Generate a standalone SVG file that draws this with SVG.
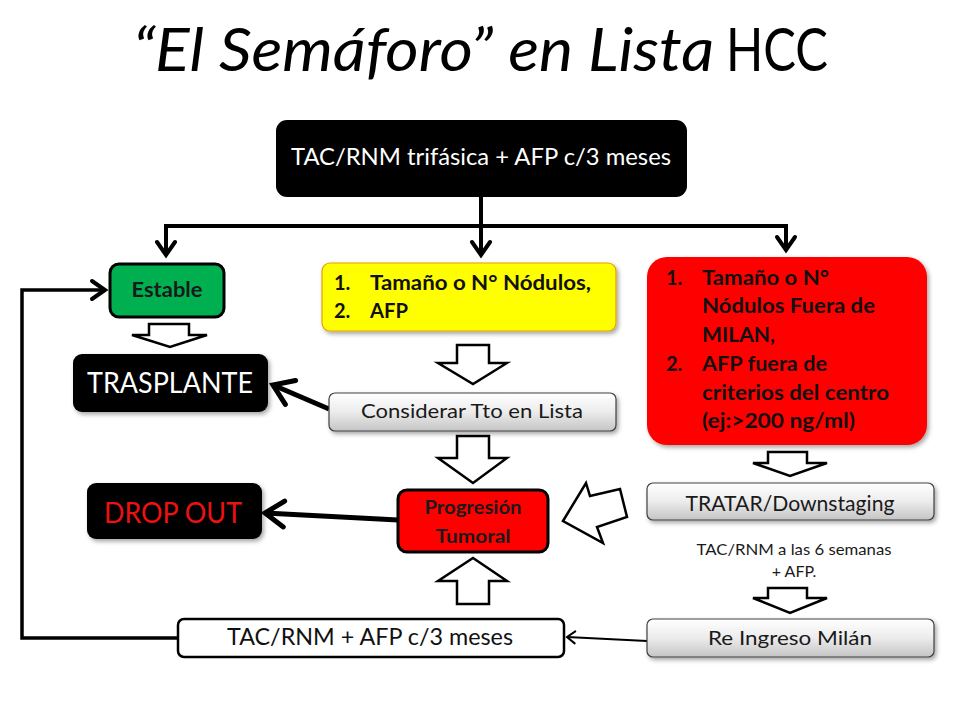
<svg xmlns="http://www.w3.org/2000/svg" width="960" height="720" viewBox="0 0 960 720">
<defs>
<style>
text{font-family:Lato,"Open Sans","Liberation Sans",sans-serif;}
.b{font-weight:bold;}
.con{fill:none;stroke:#000;}
.blk{fill:#fff;stroke:#000;stroke-width:2.5;stroke-linejoin:miter;}
.gray{fill:url(#gg);stroke:#404040;stroke-width:1.2;filter:url(#sh);}
</style>
<linearGradient id="gg" x1="0" y1="0" x2="0" y2="1">
<stop offset="0" stop-color="#ffffff"/>
<stop offset="0.5" stop-color="#ececec"/>
<stop offset="1" stop-color="#c4c4c4"/>
</linearGradient>
<filter id="sh" x="-10%" y="-20%" width="130%" height="150%">
<feDropShadow dx="2" dy="2.5" stdDeviation="2" flood-color="#000" flood-opacity="0.35"/>
</filter>
<marker id="am" markerUnits="userSpaceOnUse" viewBox="-18 -12 22 24" markerWidth="22" markerHeight="24" refX="0" refY="0" orient="auto">
<path d="M-13,-9 L0,0 L-13,9" fill="none" stroke="#000" stroke-width="4" stroke-linecap="round" stroke-linejoin="miter"/>
</marker>
<marker id="ab" markerUnits="userSpaceOnUse" viewBox="-24 -17 28 34" markerWidth="28" markerHeight="34" refX="0" refY="0" orient="auto">
<path d="M-19,-13 L0,0 L-19,13" fill="none" stroke="#000" stroke-width="5" stroke-linecap="round" stroke-linejoin="miter"/>
</marker>
<marker id="as" markerUnits="userSpaceOnUse" viewBox="-12 -8 14 16" markerWidth="14" markerHeight="16" refX="0" refY="0" orient="auto">
<path d="M-8,-6 L0,0 L-8,6" fill="none" stroke="#000" stroke-width="2" stroke-linecap="round"/>
</marker>
</defs>
<rect width="960" height="720" fill="#fff"/>

<g id="title">
<text x="133" y="71" font-size="60" font-style="italic" textLength="581" lengthAdjust="spacingAndGlyphs">“El Semáforo” en Lista</text>
<text x="726" y="71" font-size="60" textLength="102" lengthAdjust="spacingAndGlyphs">HCC</text>
</g>

<g id="connectors">
<path class="con" stroke-width="4" d="M481,197 V255" marker-end="url(#am)"/>
<path class="con" stroke-width="4" d="M166,226 H786"/>
<path class="con" stroke-width="4" d="M166,224 V255" marker-end="url(#am)"/>
<path class="con" stroke-width="4" d="M786,224 V250" marker-end="url(#am)"/>
<path class="con" stroke-width="3.5" d="M178,638 H22 V290 H105" marker-end="url(#am)"/>
<path class="con" stroke-width="5" d="M329,409 L273,385" marker-end="url(#ab)"/>
<path class="con" stroke-width="5" d="M398,520 L265,513" marker-end="url(#ab)"/>
<path class="con" stroke-width="2" d="M647,641 L567,637" marker-end="url(#as)"/>
<polygon class="blk" points="149,324 189,324 189,335 207,335 170,347 132,335 149,335"/>
<polygon class="blk" points="457,345 489,345 489,363 507,363 473,384 438,363 457,363"/>
<polygon class="blk" points="457,436 489,436 489,458 507,458 473,483 438,458 457,458"/>
<polygon class="blk" points="473,558 507,581 489,581 489,604 457,604 457,581 438,581"/>
<polygon class="blk" points="768,452 807,452 807,463 827,463 790,476 753,463 768,463"/>
<polygon class="blk" points="768,588 807,588 807,598 827,598 790,613 753,598 768,598"/>
<polygon class="blk" points="563,521 586,483 590,496 620,489 627,517 597,527 603,543"/>
</g>

<g id="n-top">
<rect x="276" y="120" width="411" height="77" rx="11" fill="#000"/>
<text x="481" y="165" font-size="23" fill="#fff" text-anchor="middle" textLength="380" lengthAdjust="spacingAndGlyphs">TAC/RNM trifásica + AFP c/3 meses</text>
</g>

<g id="n-estable">
<rect x="110" y="264" width="114" height="53" rx="9" fill="#00B050" stroke="#000" stroke-width="3"/>
<text x="167" y="297" font-size="21" class="b" fill="#1a1a1a" text-anchor="middle" textLength="71" lengthAdjust="spacingAndGlyphs">Estable</text>
</g>

<g id="n-amarillo">
<rect x="322" y="263" width="294" height="68" rx="8" fill="#FFFF00" stroke="#E4A000" stroke-width="1.2" filter="url(#sh)"/>
<g class="b" font-size="20" fill="#111">
<text x="334" y="290">1.</text>
<text x="370" y="290" textLength="221" lengthAdjust="spacingAndGlyphs">Tamaño o N° Nódulos,</text>
<text x="334" y="318">2.</text>
<text x="370" y="318" textLength="38" lengthAdjust="spacingAndGlyphs">AFP</text>
</g>
</g>

<g id="n-rojo">
<rect x="647" y="257" width="280" height="188" rx="20" fill="#FF0000" filter="url(#sh)"/>
<g class="b" font-size="20" fill="#111">
<text x="666" y="285">1.</text>
<text x="702" y="285" textLength="127" lengthAdjust="spacingAndGlyphs">Tamaño o N°</text>
<text x="702" y="313" textLength="173" lengthAdjust="spacingAndGlyphs">Nódulos Fuera de</text>
<text x="702" y="342" textLength="73" lengthAdjust="spacingAndGlyphs">MILAN,</text>
<text x="666" y="371">2.</text>
<text x="702" y="371" textLength="125" lengthAdjust="spacingAndGlyphs">AFP fuera de</text>
<text x="702" y="400" textLength="187" lengthAdjust="spacingAndGlyphs">criterios del centro</text>
<text x="702" y="428" textLength="153" lengthAdjust="spacingAndGlyphs">(ej:&gt;200 ng/ml)</text>
</g>
</g>

<g id="n-trasplante">
<rect x="73" y="354" width="195" height="58" rx="9" fill="#000" filter="url(#sh)"/>
<text x="170" y="393" font-size="28" fill="#fff" text-anchor="middle" textLength="166" lengthAdjust="spacingAndGlyphs">TRASPLANTE</text>
</g>

<g id="n-considerar">
<rect x="329" y="393" width="287" height="38" rx="6" class="gray"/>
<text x="472" y="418" font-size="20" fill="#1a1a1a" text-anchor="middle" textLength="222" lengthAdjust="spacingAndGlyphs">Considerar Tto en Lista</text>
</g>

<g id="n-dropout">
<rect x="87" y="483" width="175" height="56" rx="9" fill="#000" filter="url(#sh)"/>
<text x="173" y="523" font-size="29" fill="#EE1111" text-anchor="middle" textLength="138" lengthAdjust="spacingAndGlyphs">DROP OUT</text>
</g>

<g id="n-progresion">
<rect x="398" y="490" width="150" height="62" rx="9" fill="#FF0000" stroke="#000" stroke-width="3"/>
<text x="473" y="514" font-size="19" class="b" fill="#1a1a1a" text-anchor="middle" textLength="97" lengthAdjust="spacingAndGlyphs">Progresión</text>
<text x="473" y="543" font-size="19" class="b" fill="#1a1a1a" text-anchor="middle" textLength="75" lengthAdjust="spacingAndGlyphs">Tumoral</text>
</g>

<g id="n-tratar">
<rect x="647" y="483" width="287" height="37" rx="6" class="gray"/>
<text x="790" y="511" font-size="21" fill="#1a1a1a" text-anchor="middle" textLength="209" lengthAdjust="spacingAndGlyphs">TRATAR/Downstaging</text>
</g>

<g id="n-nota">
<text x="794" y="555" font-size="16" fill="#1a1a1a" text-anchor="middle" textLength="195" lengthAdjust="spacingAndGlyphs">TAC/RNM a las 6 semanas</text>
<text x="794" y="577" font-size="16" fill="#1a1a1a" text-anchor="middle">+ AFP.</text>
</g>

<g id="n-reingreso">
<rect x="647" y="619" width="287" height="38" rx="6" class="gray"/>
<text x="790" y="645" font-size="20" fill="#1a1a1a" text-anchor="middle" textLength="164" lengthAdjust="spacingAndGlyphs">Re Ingreso Milán</text>
</g>

<g id="n-control">
<rect x="178" y="619" width="386" height="38" rx="6" fill="#fff" stroke="#000" stroke-width="2.5"/>
<text x="370" y="645" font-size="23" fill="#111" text-anchor="middle" textLength="286" lengthAdjust="spacingAndGlyphs">TAC/RNM + AFP c/3 meses</text>
</g>
</svg>
